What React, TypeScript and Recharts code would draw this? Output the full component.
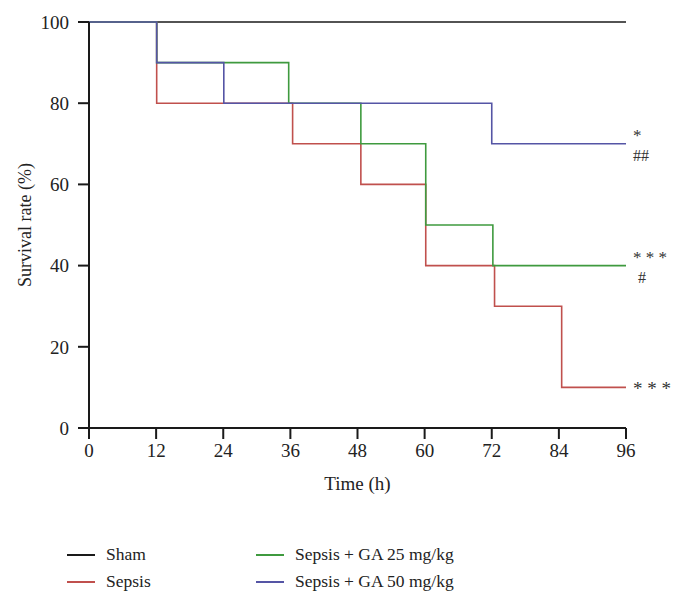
import { LineChart, Line, XAxis, YAxis, Legend, ReferenceDot } from 'recharts';

// survival curves: time (h) -> survival rate (%)
const shamTimes = [0, 96];
const shamRates = [100, 100];

const sepsisTimes = [0, 12.1, 36.4, 48.6, 60.2, 72.5, 84.5, 96];
const sepsisRates = [100, 80, 70, 60, 40, 30, 10, 10];

const ga25Times = [0, 12.1, 35.7, 48.6, 60.2, 72.2, 96.8];
const ga25Rates = [100, 90, 80, 70, 50, 40, 40];

const ga50Times = [0, 12.1, 24.1, 72, 96];
const ga50Rates = [100, 90, 80, 70, 70];

const xTicks = [0, 12, 24, 36, 48, 60, 72, 84, 96];
const yTicks = [0, 20, 40, 60, 80, 100];

const toPoints = (times: number[], rates: number[]) =>
  times.map((t, i) => ({ time: t, rate: rates[i] }));

const series = [
  { name: 'Sham', color: '#1a1a1a', data: toPoints(shamTimes, shamRates) },
  { name: 'Sepsis', color: '#c0504d', data: toPoints(sepsisTimes, sepsisRates) },
  { name: 'Sepsis + GA 25 mg/kg', color: '#3f9a3f', data: toPoints(ga25Times, ga25Rates) },
  { name: 'Sepsis + GA 50 mg/kg', color: '#5555a5', data: toPoints(ga50Times, ga50Rates) },
];

const marks = [
  { y: 70, top: '*', bottom: '##', dx2: 0 },
  { y: 40, top: '* * *', bottom: '#', dx2: 5 },
  { y: 10, top: '* * *', bottom: '', dx2: 0 },
];

const font = '"Liberation Serif", "DejaVu Serif", serif';

const MarkLabel = (props: any) => {
  const { viewBox, top, bottom, dx2 } = props;
  const x = viewBox.x + 7;
  const y = viewBox.y;
  if (!bottom) {
    return (
      <text x={x} y={y + 8} fontSize={19} fontFamily={font} fill="#333">
        {top}
      </text>
    );
  }
  return (
    <g fontFamily={font} fill="#333">
      <text x={x} y={y - 3} fontSize={17}>{top}</text>
      <text x={x + dx2} y={y + 17} fontSize={16}>{bottom}</text>
    </g>
  );
};

const LegendBox = () => {
  const item = (s: { name: string; color: string }, left: number, top: number) => (
    <div key={s.name} style={{ position: 'absolute', left, top, display: 'flex', alignItems: 'center' }}>
      <span style={{ display: 'inline-block', width: 28, height: 2, background: s.color, marginRight: 11 }} />
      <span style={{ fontSize: 17.5, fontFamily: font, color: '#222', whiteSpace: 'nowrap' }}>{s.name}</span>
    </div>
  );
  return (
    <div style={{ position: 'relative', width: 680, height: 60 }}>
      {item(series[0], 67, 0)}
      {item(series[1], 67, 27)}
      {item(series[2], 256, 0)}
      {item(series[3], 256, 27)}
    </div>
  );
};

export default function App() {
  return (
    <div style={{ position: 'absolute', left: 0, top: 0, width: 680, height: 607, background: '#fff' }}>
      <LineChart width={680} height={607} margin={{ top: 22, right: 54, left: 0, bottom: 47 }}>
        <XAxis
          dataKey="time"
          type="number"
          domain={[0, 96]}
          ticks={xTicks}
          allowDataOverflow
          tickSize={11}
          tickMargin={5}
          height={72}
          stroke="#1a1a1a"
          strokeWidth={2}
          tick={{ fill: '#222', fontSize: 19, fontFamily: font }}
          label={{ value: 'Time (h)', position: 'insideBottom', offset: 10, fill: '#222', fontSize: 19, fontFamily: font }}
        />
        <YAxis
          type="number"
          domain={[0, 100]}
          ticks={yTicks}
          width={89}
          tickSize={11}
          tickMargin={9}
          stroke="#1a1a1a"
          strokeWidth={2}
          tick={{ fill: '#222', fontSize: 19, fontFamily: font }}
          label={{
            value: 'Survival rate (%)',
            angle: -90,
            position: 'insideLeft',
            offset: 25,
            style: { textAnchor: 'middle' },
            fill: '#222',
            fontSize: 18,
            fontFamily: font,
          }}
        />
        <Legend
          verticalAlign="bottom"
          content={() => <LegendBox />}
          wrapperStyle={{ position: 'absolute', left: 0, top: 544, width: 680, bottom: 'auto' }}
        />
        {series.map((s) => (
          <Line
            key={s.name}
            data={s.data}
            dataKey="rate"
            name={s.name}
            type="stepAfter"
            stroke={s.color}
            strokeWidth={1.6}
            dot={false}
            activeDot={false}
            isAnimationActive={false}
          />
        ))}
        {marks.map((m) => (
          <ReferenceDot
            key={m.y}
            x={96}
            y={m.y}
            r={0}
            ifOverflow="visible"
            label={(p: any) => <MarkLabel {...p} top={m.top} bottom={m.bottom} dx2={m.dx2} />}
          />
        ))}
      </LineChart>
    </div>
  );
}
